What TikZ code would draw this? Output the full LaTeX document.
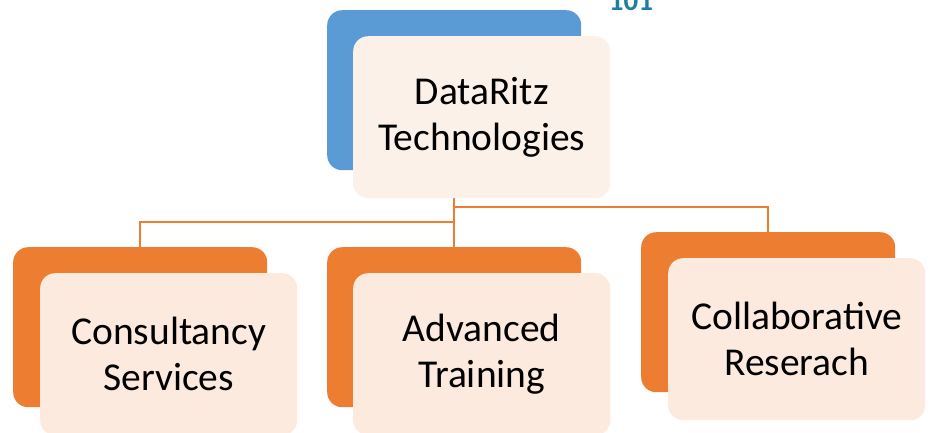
\documentclass[tikz,border=0pt]{standalone}
\usepackage{fontspec}
\setmainfont{Carlito}
\usetikzlibrary{backgrounds}
\definecolor{blueback}{HTML}{5B9BD5}
\definecolor{orangeback}{HTML}{ED7D31}
\definecolor{creamtop}{HTML}{FBF1E9}
\definecolor{creamorange}{HTML}{FCEADE}
\definecolor{tealtxt}{HTML}{1F7FA0}
\begin{document}
\begin{tikzpicture}[x=1pt,y=-1pt,
  backbox/.style={rounded corners=15pt, minimum width=254pt, minimum height=160pt, inner sep=0pt, anchor=north west, draw=none},
  frontbox/.style={rounded corners=15pt, minimum width=257pt, minimum height=162pt, inner sep=0pt, anchor=north west, align=center, font=\fontsize{39.5}{46}\selectfont, draw=none},
  conn/.style={draw=orangeback, line width=2.5pt}]
\useasboundingbox (0,0) rectangle (931,432);
\node[font=\fontsize{29}{31}\selectfont\bfseries, text=tealtxt, anchor=base] (code) at (631,10.5) {101};
\node[backbox, fill=blueback] (topback) at (327,10) {};
\node[frontbox, fill=creamtop] (topfront) at (353,36) {DataRitz\\Technologies};
\node[backbox, fill=orangeback] (leftback) at (13,247) {};
\node[frontbox, fill=creamorange] (leftfront) at (40,273) {Consultancy\\Services};
\node[backbox, fill=orangeback] (midback) at (327,247) {};
\node[frontbox, fill=creamorange] (midfront) at (353,273) {Advanced\\Training};
\node[backbox, fill=orangeback] (rightback) at (641,232) {};
\node[frontbox, fill=creamorange] (rightfront) at (668,258) {Collaborative\\Reserach};
\coordinate (j1) at (454,207);
\coordinate (j2) at (454,222);
\begin{scope}[on background layer]
\draw[conn] (topback.center) -- (midback.north);
\draw[conn] (j1) -| (rightback.north);
\draw[conn] (j2) -| (leftback.north);
\end{scope}
\end{tikzpicture}
\end{document}
